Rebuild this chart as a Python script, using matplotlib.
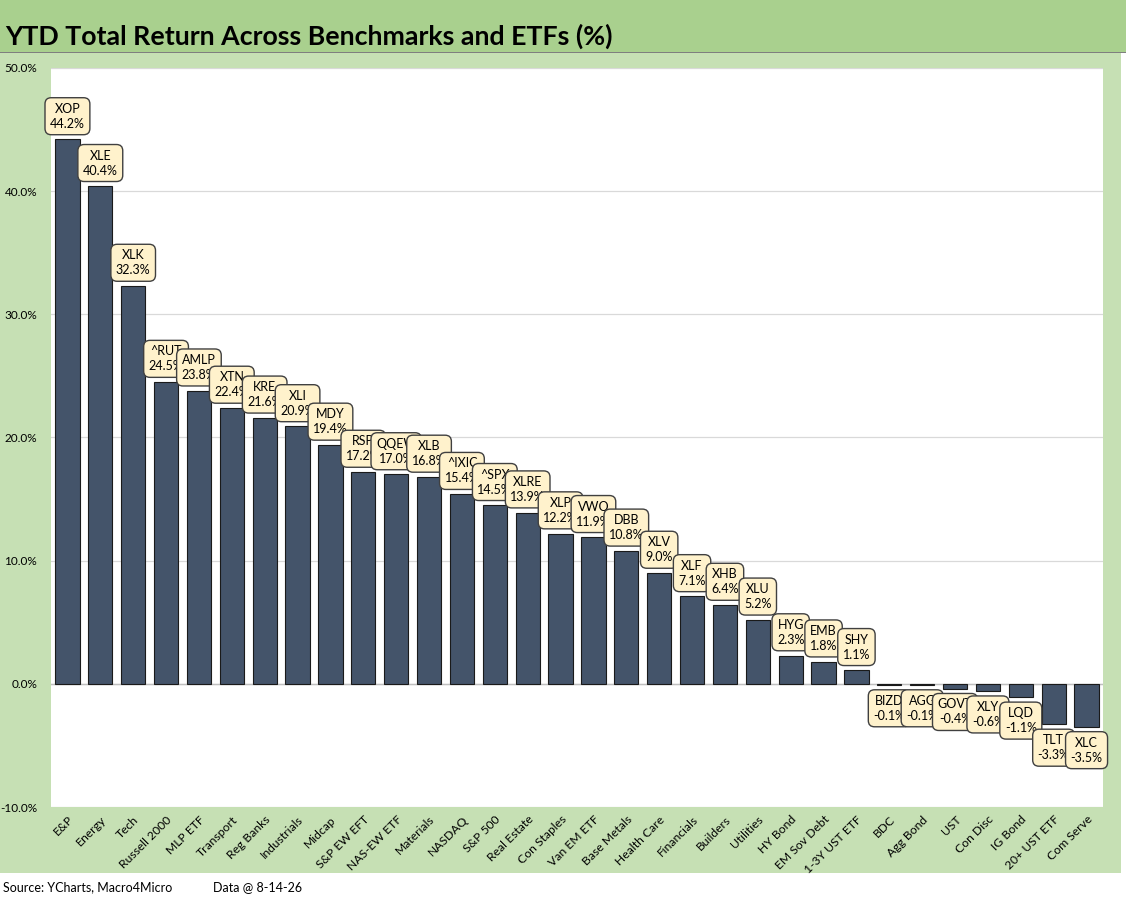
import numpy as np
import matplotlib.pyplot as plt
from matplotlib.patches import Rectangle

categories = ['E&P', 'Energy', 'Tech', 'Russell 2000', 'MLP ETF', 'Transport', 'Reg Banks',
              'Industrials', 'Midcap', 'S&P EW EFT', 'NAS-EW ETF', 'Materials', 'NASDAQ',
              'S&P 500', 'Real Estate', 'Con Staples', 'Van EM ETF', 'Base Metals',
              'Health Care', 'Financials', 'Builders', 'Utilities', 'HY Bond', 'EM Sov Debt',
              '1-3Y UST ETF', 'BDC', 'Agg Bond', 'UST', 'Con Disc', 'IG Bond', '20+ UST ETF',
              'Com Serve']
tickers = ['XOP', 'XLE', 'XLK', '^RUT', 'AMLP', 'XTN', 'KRE', 'XLI', 'MDY', 'RSP', 'QQEW',
           'XLB', '^IXIC', '^SPX', 'XLRE', 'XLP', 'VWO', 'DBB', 'XLV', 'XLF', 'XHB', 'XLU',
           'HYG', 'EMB', 'SHY', 'BIZD', 'AGG', 'GOVT', 'XLY', 'LQD', 'TLT', 'XLC']
returns = [44.2, 40.4, 32.3, 24.5, 23.8, 22.4, 21.6, 20.9, 19.4, 17.2, 17.0, 16.8, 15.4,
           14.5, 13.9, 12.2, 11.9, 10.8, 9.0, 7.1, 6.4, 5.2, 2.3, 1.8, 1.1, -0.1, -0.1,
           -0.4, -0.6, -1.1, -3.3, -3.5]

plt.rcParams['font.family'] = ['Lato', 'DejaVu Sans']

W, H = 1126, 905
fig = plt.figure(figsize=(W / 100, H / 100), dpi=100)

# background bands
fig.patches.append(Rectangle((0, 1 - 52 / H), 1, 52 / H, transform=fig.transFigure,
                             facecolor='#A9D08E', edgecolor='none', zorder=-10))
fig.patches.append(Rectangle((0, 1 - 53 / H), 1, 1.2 / H, transform=fig.transFigure,
                             facecolor='#7F7F7F', edgecolor='none', zorder=-10))
fig.patches.append(Rectangle((0, 1 - 873 / H), 1121 / W, (873 - 53) / H,
                             transform=fig.transFigure, facecolor='#C6E0B4',
                             edgecolor='none', zorder=-10))

fig.text(5 / W, 1 - 36 / H, 'YTD Total Return Across Benchmarks and ETFs (%)',
         fontsize=19.3, fontweight='bold', va='center', ha='left')
fig.text(3 / W, 1 - 887 / H, 'Source: YCharts, Macro4Micro', fontsize=9, va='center')
fig.text(213 / W, 1 - 887 / H, 'Data @ 8-14-26', fontsize=9, va='center')

ax = fig.add_axes([51 / W, 1 - 807 / H, (1103 - 51) / W, (807 - 68) / H])
ax.set_facecolor('white')
x = np.arange(len(categories))
ax.bar(x, returns, width=0.74, color='#44546A', edgecolor='#1a1a1a', linewidth=0.8, zorder=3)

ax.set_xlim(-0.5, len(categories) - 0.5)
ax.set_ylim(-10, 50)
ax.set_yticks(np.arange(-10, 51, 10))
ax.set_yticklabels([f'{v:.1f}%' for v in np.arange(-10, 51, 10)], fontsize=8.5)
ax.set_xticks(x)
ax.set_xticklabels(categories, rotation=45, ha='right', rotation_mode='anchor', fontsize=8.7)
ax.tick_params(axis='y', length=0, pad=10)
ax.tick_params(axis='x', length=0, pad=5)
ax.grid(axis='y', color='#D9D9D9', linewidth=0.9, zorder=0)
ax.axhline(0, color='#BFBFBF', linewidth=1.0, zorder=2)
for s in ax.spines.values():
    s.set_visible(False)

for i, (t, v) in enumerate(zip(tickers, returns)):
    off = 7 if v >= 0 else -7
    ax.annotate(f'{t}\n{v:.1f}%', xy=(i, v), xytext=(0, off), textcoords='offset points',
                ha='center', va='bottom' if v >= 0 else 'top', fontsize=9,
                linespacing=1.3, zorder=5,
                bbox=dict(boxstyle='round,pad=0.4,rounding_size=0.5', facecolor='#FFF2CC',
                          edgecolor='#404040', linewidth=1.0))

fig.savefig('out.png', dpi=100)
